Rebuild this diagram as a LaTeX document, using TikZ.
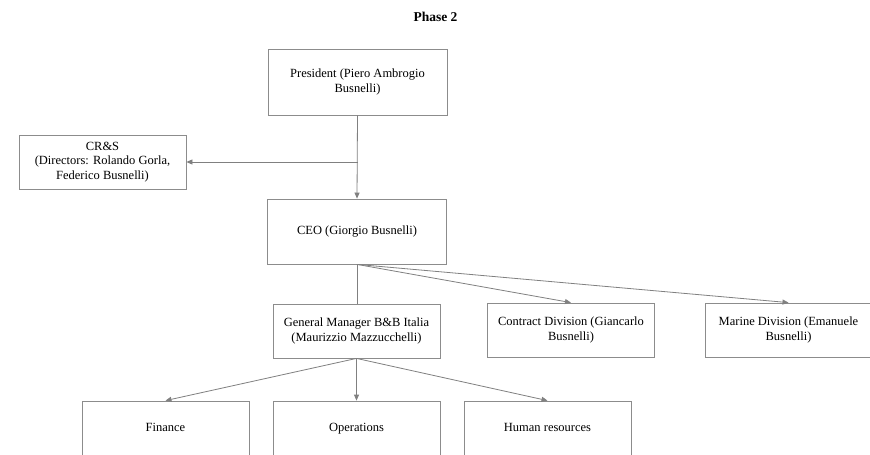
\documentclass[tikz,border=0pt]{standalone}
\usepackage{fontspec}
\setmainfont{Liberation Serif}
\usetikzlibrary{arrows.meta}
\definecolor{linegray}{RGB}{128,128,128}
\definecolor{boxgray}{RGB}{140,140,140}
\begin{document}
\begin{tikzpicture}[x=1pt,y=-1pt,
  box/.style={draw=boxgray, line width=0.8pt, align=center, inner sep=0pt,
    font=\fontsize{12.5}{14.5}\selectfont, text=black},
  wide/.style={box, minimum width=179pt, minimum height=66pt},
  std/.style={box, minimum width=167pt, minimum height=54pt},
  low/.style={box, minimum width=167pt, minimum height=55pt, text height=8.6pt, text depth=2.8pt},
  conn/.style={draw=linegray, line width=0.8pt},
  arr/.style={conn, -{Triangle[length=6pt,width=5pt]}}]
\useasboundingbox (0,0) rectangle (870,455);
\fill[white] (0,0) rectangle (870,455);
\clip (0,0) rectangle (870,455);
\node[font=\bfseries\fontsize{13.5}{16}\selectfont] (title) at (435.5,17) {Phase 2};
\node[wide] (pres) at (357.5,82) {President (Piero Ambrogio\\Busnelli)};
\node[std] (crs) at (102.5,162) {CR\&S\\(Directors: Rolando Gorla,\\Federico Busnelli)};
\node[wide, minimum height=65pt] (ceo) at (357,231.5) {CEO (Giorgio Busnelli)};
\node[std] (gm) at (356.5,331) {General Manager B\&B Italia\\(Maurizzio Mazzucchelli)};
\node[std] (contract) at (571,330) {Contract Division (Giancarlo\\Busnelli)};
\node[std] (marine) at (788.5,330) {Marine Division (Emanuele\\Busnelli)};
\node[low] (fin) at (165.5,428.5) {Finance};
\node[low] (ops) at (356.5,428.5) {Operations};
\node[low] (hr) at (547.5,428.5) {Human resources};
\coordinate (j) at (pres.south |- crs.east);
\draw[arr] (pres.south) -- (ceo.north);
\draw[arr] (j) -- (crs.east);
\draw[conn] (ceo.south) -- (ceo.south |- gm.north);
\draw[arr] (ceo.south) -- (contract.north);
\draw[arr] (ceo.south) -- (marine.north);
\draw[arr] (gm.south) -- (fin.north);
\draw[arr] (gm.south) -- (ops.north);
\draw[arr] (gm.south) -- (hr.north);
\end{tikzpicture}
\end{document}
